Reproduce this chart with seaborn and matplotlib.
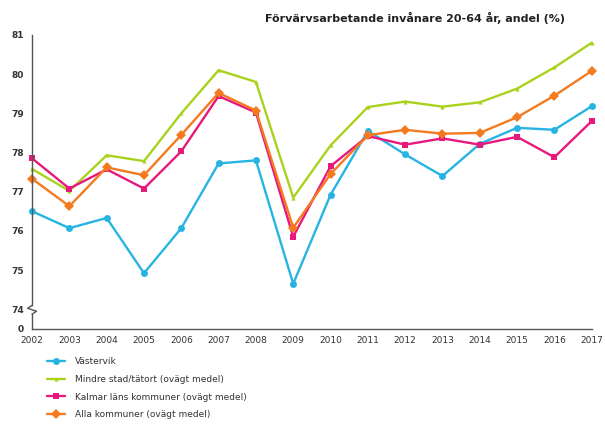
import numpy as np
import pandas as pd
import matplotlib
matplotlib.use("Agg")
import matplotlib.pyplot as plt
import seaborn as sns

# --- data ---
years = list(range(2002, 2018))

vastervik = [76.5, 76.07, 76.33, 74.92, 76.07, 77.72, 77.8, 74.65, 76.92,
             78.55, 77.95, 77.4, 78.22, 78.63, 78.58, 79.18]
mindre_stad = [77.58, 77.02, 77.93, 77.78, 79.0, 80.1, 79.8, 76.85, 78.18,
               79.16, 79.3, 79.17, 79.28, 79.63, 80.17, 80.8]
kalmar_lan = [77.85, 77.08, 77.57, 77.08, 78.03, 79.44, 79.02, 75.85, 77.65,
              78.42, 78.2, 78.36, 78.2, 78.4, 77.88, 78.8]
alla_kommuner = [77.33, 76.63, 77.62, 77.42, 78.45, 79.52, 79.07, 76.08, 77.45,
                 78.44, 78.58, 78.48, 78.5, 78.9, 79.45, 80.08]

series_names = [
    "Västervik",
    "Mindre stad/tätort (ovägt medel)",
    "Kalmar läns kommuner (ovägt medel)",
    "Alla kommuner (ovägt medel)",
]
series_values = [vastervik, mindre_stad, kalmar_lan, alla_kommuner]

y_ticks = [74, 75, 76, 77, 78, 79, 80, 81]
title = "Förvärvsarbetande invånare 20-64 år, andel (%)"

colors = ["#27B4E3", "#A9D21C", "#E8197C", "#F47A1F"]
markers = ["o", "^", "s", "D"]
marker_sizes = [5, 3, 5, 5]

rows = []
for name, vals in zip(series_names, series_values):
    for yr, v in zip(years, vals):
        rows.append({"year": yr, "value": v, "serie": name})
df = pd.DataFrame(rows)

sns.set_theme(style="white")
plt.rcParams["font.family"] = ["DejaVu Sans"]

fig = plt.figure(figsize=(6.05, 4.26), dpi=100)
ax = fig.add_axes([0.053, 0.228, 0.925, 0.690])

for name, col, mk, ms in zip(series_names, colors, markers, marker_sizes):
    sub = df[df["serie"] == name]
    sns.lineplot(data=sub, x="year", y="value", ax=ax, color=col,
                 marker=mk, markersize=ms, markeredgewidth=0,
                 linewidth=1.7, label=name, clip_on=False)

y_bottom = 73.5
ax.set_xlim(2002, 2017)
ax.set_ylim(y_bottom, 81)
ax.set_xticks(years)
ax.set_xticklabels([str(y) for y in years], fontsize=6.5, color="#333333")
ax.set_yticks([y_bottom] + y_ticks)
ax.set_yticklabels(["0"] + [str(t) for t in y_ticks], fontsize=6.5,
                   color="#333333", fontweight="bold")
ax.set_xlabel("")
ax.set_ylabel("")

for side in ["top", "right"]:
    ax.spines[side].set_visible(False)
for side in ["left", "bottom"]:
    ax.spines[side].set_color("#555555")
    ax.spines[side].set_linewidth(1.0)
ax.tick_params(axis="x", direction="inout", length=4, width=0.8,
               color="#555555", pad=3)
ax.tick_params(axis="y", length=0, pad=6)

# axis break zigzag on the y-axis
zx = [0, 0.008, -0.008, 0]
zy = [0.05, 0.06, 0.07, 0.08]
ax.plot([0, 0], [0.057, 0.073], transform=ax.transAxes, color="white",
        lw=1.8, clip_on=False, zorder=3)
ax.plot(zx, zy, transform=ax.transAxes, color="#555555", lw=1.0,
        clip_on=False, zorder=4)

fig.text(0.686, 0.958, title, ha="center", va="center", fontsize=8,
         fontweight="bold", color="#222222")

handles, labels = ax.get_legend_handles_labels()
ax.legend_.remove()
fig.legend(handles, labels, loc="upper left", bbox_to_anchor=(0.065, 0.18),
           frameon=False, fontsize=6.5, handlelength=1.9, labelspacing=0.95,
           handletextpad=1.1, labelcolor="#333333")

fig.savefig("out.png", dpi=100)
plt.close(fig)
